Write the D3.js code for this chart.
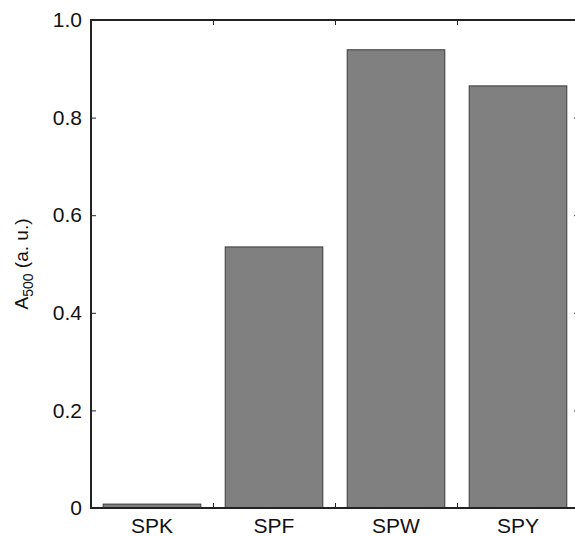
<!DOCTYPE html>
<html>
<head>
<meta charset="utf-8">
<script src="https://cdn.jsdelivr.net/npm/d3@7"></script>
<style>
    body { margin: 0; background: #fff; }
    svg { display: block; font-family: "Liberation Sans", Arial, sans-serif; }
    .domain { display: none; }
</style>
</head>
<body>
<div id="main"></div>
<script>
const ctx = {
    w: 575,
    h: 536,
    left: 91,
    right: 579,
    top: 20,
    bottom: 508
};

// samples and absorbance at 500 nm
const categories = ["SPK", "SPF", "SPW", "SPY"];
const values = [0.008, 0.535, 0.939, 0.865];
const yTicks = [0, 0.2, 0.4, 0.6, 0.8, 1.0];
const yTickLabels = ["0", "0.2", "0.4", "0.6", "0.8", "1.0"];
// ticks sit between bars
const xTickPos = [1.5, 2.5, 3.5];

function createViz() {
    let svgEl = d3.select("#main").append("svg")
        .attr("width", ctx.w)
        .attr("height", ctx.h);

    let x = d3.scaleBand()
        .domain(categories)
        .range([ctx.left, ctx.right])
        .paddingInner(0.2)
        .paddingOuter(0.1);
    let xPos = d3.scaleLinear()
        .domain([0.5, categories.length + 0.5])
        .range([ctx.left, ctx.right]);
    let y = d3.scaleLinear()
        .domain([0, 1])
        .range([ctx.bottom, ctx.top]);

    // bars
    svgEl.append("g").selectAll("rect")
        .data(values)
        .enter()
        .append("rect")
        .attr("x", (d, i) => x(categories[i]))
        .attr("y", d => y(d))
        .attr("width", x.bandwidth())
        .attr("height", d => y(0) - y(d))
        .attr("fill", "#808080")
        .attr("stroke", "#3a3a3a")
        .attr("stroke-width", 1);

    // inner ticks
    let tickLen = 5;
    svgEl.append("g")
        .attr("transform", `translate(0,${ctx.bottom})`)
        .call(d3.axisBottom(xPos).tickValues(xTickPos).tickSize(-tickLen).tickFormat(""))
        .selectAll(".tick line").attr("stroke", "#222");
    svgEl.append("g")
        .attr("transform", `translate(0,${ctx.top})`)
        .call(d3.axisTop(xPos).tickValues(xTickPos).tickSize(-tickLen).tickFormat(""))
        .selectAll(".tick line").attr("stroke", "#222");
    svgEl.append("g")
        .attr("transform", `translate(${ctx.right},0)`)
        .call(d3.axisRight(y).tickValues(yTicks).tickSize(-tickLen).tickFormat(""))
        .selectAll(".tick line").attr("stroke", "#222");

    // left axis with labels
    let yAx = svgEl.append("g")
        .attr("transform", `translate(${ctx.left},0)`)
        .call(d3.axisLeft(y).tickValues(yTicks).tickSize(-tickLen).tickPadding(9)
            .tickFormat((d, i) => yTickLabels[i]));
    yAx.selectAll(".tick line").attr("stroke", "#222");
    yAx.selectAll("text")
        .attr("font-size", 21)
        .attr("fill", "#111")
        .attr("font-family", "Liberation Sans, Arial, sans-serif");

    // category labels
    let xAx = svgEl.append("g")
        .attr("transform", `translate(0,${ctx.bottom})`)
        .call(d3.axisBottom(x).tickSize(0).tickPadding(10));
    xAx.selectAll("text")
        .attr("font-size", 21)
        .attr("fill", "#111")
        .attr("font-family", "Liberation Sans, Arial, sans-serif");

    // box
    svgEl.append("rect")
        .attr("x", ctx.left)
        .attr("y", ctx.top)
        .attr("width", ctx.right - ctx.left)
        .attr("height", ctx.bottom - ctx.top)
        .attr("fill", "none")
        .attr("stroke", "#222")
        .attr("stroke-width", 2);

    // y label
    let lab = svgEl.append("text")
        .attr("transform", `translate(28,${(ctx.top + ctx.bottom) / 2}) rotate(-90)`)
        .attr("text-anchor", "middle")
        .attr("font-size", 19)
        .attr("fill", "#111");
    lab.append("tspan").text("A");
    lab.append("tspan").attr("font-size", 14).attr("dy", 5).text("500");
    lab.append("tspan").attr("dy", -5).text(" (a. u.)");
};

createViz();
</script>
</body>
</html>
